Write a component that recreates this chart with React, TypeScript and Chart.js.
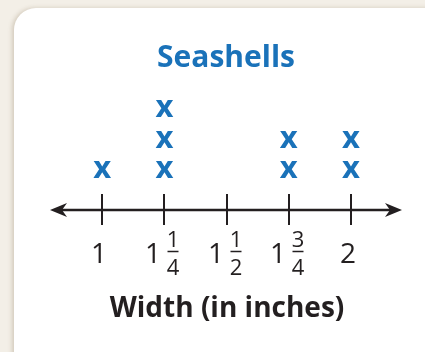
import React, { useEffect, useRef } from "react";
import { Chart, registerables } from "chart.js";

Chart.register(...registerables);

// ---- data ----
const widths = [1, 1.25, 1.5, 1.75, 2];
const counts = [1, 3, 0, 2, 2];
const wholeLabels = ["1", "1", "1", "1", "2"];
const numerators = ["", "1", "1", "3", ""];
const denominators = ["", "4", "2", "4", ""];
const chartTitle = "Seashells";
const axisTitle = "Width (in inches)";

const BLUE = "#1a72b9";
const INK = "#231f20";
const FONT = "'Open Sans', 'Noto Sans', sans-serif";

const points = widths.flatMap((w, i) =>
  Array.from({ length: counts[i] }, (_, k) => ({ x: w, y: k + 1 }))
);

const numberLinePlugin = {
  id: "numberLine",
  afterDatasetsDraw(chart: any) {
    const ctx: CanvasRenderingContext2D = chart.ctx;
    const xs = chart.scales.x;
    const area = chart.chartArea;
    const axisY = area.bottom;
    ctx.save();

    // title
    ctx.fillStyle = BLUE;
    ctx.font = `bold 30px ${FONT}`;
    ctx.textAlign = "center";
    ctx.textBaseline = "alphabetic";
    ctx.fillText(chartTitle, (area.left + area.right) / 2, 67);

    // x marks
    const meta = chart.getDatasetMeta(0);
    ctx.font = `bold 31px ${FONT}`;
    meta.data.forEach((pt: any) => {
      ctx.fillText("x", pt.x, pt.y + 8);
    });

    // number line
    ctx.strokeStyle = INK;
    ctx.fillStyle = INK;
    ctx.lineWidth = 2.5;
    ctx.beginPath();
    ctx.moveTo(area.left + 10, axisY);
    ctx.lineTo(area.right - 10, axisY);
    ctx.stroke();

    const arrow = (tipX: number, dir: number) => {
      ctx.beginPath();
      ctx.moveTo(tipX, axisY);
      ctx.lineTo(tipX + dir * 17, axisY - 7);
      ctx.lineTo(tipX + dir * 12, axisY);
      ctx.lineTo(tipX + dir * 17, axisY + 7);
      ctx.closePath();
      ctx.fill();
    };
    arrow(area.left, 1);
    arrow(area.right, -1);

    // ticks and labels
    ctx.lineWidth = 2;
    widths.forEach((w, i) => {
      const x = Math.round(xs.getPixelForValue(w));
      ctx.beginPath();
      ctx.moveTo(x, axisY - 16);
      ctx.lineTo(x, axisY + 15);
      ctx.stroke();

      ctx.textAlign = "center";
      if (!numerators[i]) {
        ctx.font = `28px ${FONT}`;
        ctx.fillText(wholeLabels[i], x - 3, 263);
      } else {
        ctx.font = `28px ${FONT}`;
        ctx.fillText(wholeLabels[i], x - 11, 263);
        ctx.font = `22px ${FONT}`;
        const fx = x + 9;
        ctx.fillText(numerators[i], fx, 247);
        ctx.fillText(denominators[i], fx, 275);
        ctx.lineWidth = 1.5;
        ctx.beginPath();
        ctx.moveTo(fx - 5.5, 251.5);
        ctx.lineTo(fx + 5.5, 251.5);
        ctx.stroke();
        ctx.lineWidth = 2;
      }
    });

    // axis title
    ctx.font = `bold 28px ${FONT}`;
    ctx.fillText(axisTitle, (area.left + area.right) / 2 + 1, 317);
    ctx.restore();
  },
};

export default function App() {
  const ref = useRef<HTMLCanvasElement | null>(null);
  useEffect(() => {
    if (!ref.current) return;
    const chart = new Chart(ref.current, {
      type: "scatter",
      data: {
        datasets: [
          {
            data: points,
            pointRadius: 0,
            pointHoverRadius: 0,
            backgroundColor: BLUE,
          },
        ],
      },
      options: {
        responsive: false,
        animation: false,
        events: [],
        layout: { padding: { left: 50, right: 23, top: 94, bottom: 142 } },
        plugins: { legend: { display: false }, tooltip: { enabled: false }, title: { display: false } },
        scales: {
          x: { type: "linear", min: 0.79, max: 2.205, display: false },
          y: { type: "linear", min: -0.32, max: 3.5, display: false },
        },
      },
      plugins: [numberLinePlugin],
    });
    return () => chart.destroy();
  }, []);

  return (
    <div style={{ position: "fixed", left: 0, top: 0, width: 425, height: 352, background: "#f3efe7", overflow: "hidden" }}>
      <div
        style={{
          position: "absolute",
          left: 14,
          top: 8,
          width: 440,
          height: 380,
          background: "#ffffff",
          borderRadius: 22,
          boxShadow: "-2px 0 4px rgba(140,120,90,0.3)",
        }}
      />
      <canvas ref={ref} width={425} height={352} style={{ position: "absolute", left: 0, top: 0, display: "block" }} />
    </div>
  );
}
